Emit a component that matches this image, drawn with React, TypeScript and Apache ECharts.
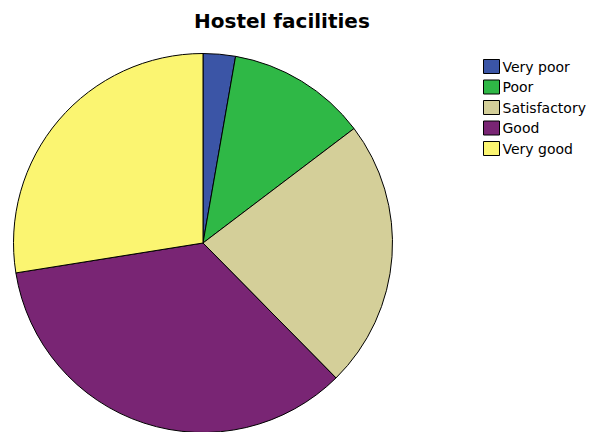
import React, { useEffect, useRef } from "react";
import * as echarts from "echarts";

const categories = ["Very poor", "Poor", "Satisfactory", "Good", "Very good"];
const counts = [3, 13, 25, 38, 30];
const colors = ["#3b55a6", "#2fb846", "#d4cf99", "#792574", "#fbf571"];
const titleText = "Hostel facilities";

export default function App() {
  const ref = useRef<HTMLDivElement>(null);
  useEffect(() => {
    document.body.style.margin = "0";
    const chart = echarts.init(ref.current!, null, { renderer: "svg" });
    chart.setOption({
      animation: false,
      backgroundColor: "#ffffff",
      title: {
        text: titleText,
        left: 189,
        top: 6,
        textStyle: {
          fontFamily: "DejaVu Sans, sans-serif",
          fontWeight: "bold",
          fontSize: 20,
          color: "#000",
        },
      },
      legend: {
        orient: "vertical",
        left: 478,
        top: 54,
        itemWidth: 16,
        itemHeight: 14,
        itemGap: 5.5,
        icon: "rect",
        data: categories,
        itemStyle: { borderColor: "#000", borderWidth: 1 },
        textStyle: {
          fontFamily: "DejaVu Sans, sans-serif",
          fontSize: 14,
          lineHeight: 14,
          color: "#000",
          padding: [0, 0, 0, -2],
        },
      },
      series: [
        {
          type: "pie",
          center: [203, 243],
          radius: 189.5,
          startAngle: 90,
          clockwise: true,
          label: { show: false },
          labelLine: { show: false },
          emphasis: { disabled: true },
          itemStyle: { borderColor: "#000", borderWidth: 1 },
          data: categories.map((c, i) => ({
            name: c,
            value: counts[i],
            itemStyle: { color: colors[i] },
          })),
        },
      ],
    });
    return () => chart.dispose();
  }, []);
  return <div ref={ref} style={{ width: 590, height: 432 }} />;
}
